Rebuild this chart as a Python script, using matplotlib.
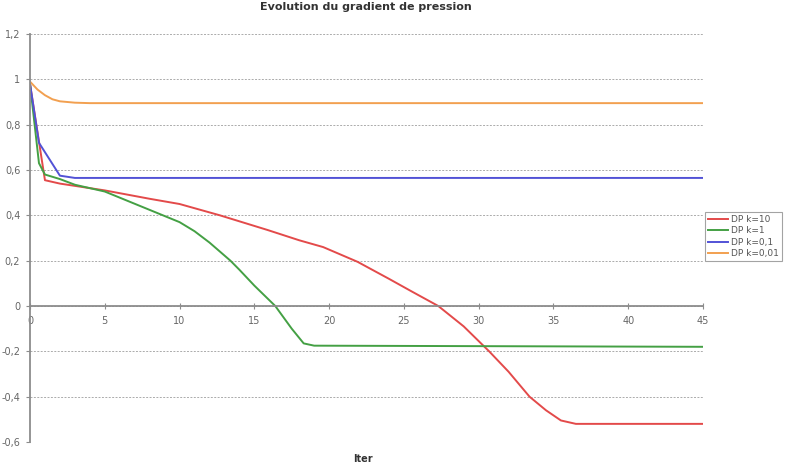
import matplotlib
matplotlib.use('Agg')
import matplotlib.pyplot as plt
from matplotlib.ticker import FuncFormatter

# --- data ---
labels = ["DP k=10", "DP k=1", "DP k=0,1", "DP k=0,01"]
colors = ["#e34a4a", "#44a044", "#5252d6", "#f2a050"]

x_k10 = [0, 1, 2, 5, 8, 10, 12.7, 15.9, 18, 19.6, 21.9, 24, 25.5, 27.3, 29, 30.7, 32, 33.4, 34.5, 35.5, 36.5, 45]
y_k10 = [0.98, 0.555, 0.54, 0.51, 0.473, 0.45, 0.40, 0.335, 0.29, 0.26, 0.195, 0.12, 0.065, 0.0,
         -0.09, -0.2, -0.29, -0.4, -0.46, -0.505, -0.52, -0.52]

x_k1 = [0, 0.6, 1, 2, 3, 5, 8, 10, 11, 12, 13.4, 14, 15, 15.7, 16.4, 17.5, 18.3, 19, 45]
y_k1 = [0.98, 0.63, 0.58, 0.56, 0.535, 0.505, 0.424, 0.37, 0.33, 0.28, 0.20, 0.16, 0.09, 0.045,
        0.0, -0.1, -0.165, -0.175, -0.18]

x_k01 = [0, 0.6, 2, 3, 45]
y_k01 = [0.98, 0.72, 0.575, 0.565, 0.565]

x_k001 = [0, 0.5, 1, 1.5, 2, 3, 4, 45]
y_k001 = [0.99, 0.955, 0.93, 0.912, 0.903, 0.897, 0.895, 0.895]

series = [(x_k10, y_k10), (x_k1, y_k1), (x_k01, y_k01), (x_k001, y_k001)]

fig = plt.figure(figsize=(7.94, 4.65), dpi=100)
ax = fig.add_axes([30 / 794, 23 / 465, 673 / 794, 408 / 465])

for (xs, ys), c, lab in zip(series, colors, labels):
    ax.plot(xs, ys, color=c, lw=1.4, label=lab, solid_joinstyle='round')

ax.set_xlim(0, 45)
ax.set_ylim(-0.6, 1.2)
ax.set_xticks(range(0, 46, 5))
ax.set_yticks([-0.6, -0.4, -0.2, 0, 0.2, 0.4, 0.6, 0.8, 1.0, 1.2])
ax.yaxis.set_major_formatter(FuncFormatter(lambda v, p: f"{v:g}".replace(".", ",")))

# gridlines
ax.grid(axis='y', ls=(0, (2, 1.5)), color='#ababab', lw=0.7)
ax.set_axisbelow(True)

for s in ['top', 'right']:
    ax.spines[s].set_visible(False)
ax.spines['bottom'].set_position(('data', 0))
ax.spines['bottom'].set_color('#8c8c8c')
ax.spines['bottom'].set_linewidth(1.3)
ax.spines['left'].set_color('#8c8c8c')
ax.spines['left'].set_linewidth(1.3)

ax.tick_params(axis='x', direction='inout', length=5, color='#8c8c8c', labelsize=7,
               labelcolor='#666666', pad=5)
ax.tick_params(axis='y', direction='out', length=3, color='#8c8c8c', labelsize=7,
               labelcolor='#666666', pad=4)

fig.text(366 / 794, 1 - 7 / 465, "Evolution du gradient de pression", ha='center', va='center',
         fontsize=8, fontweight='bold', color='#333333')
fig.text(363 / 794, 1 - 459 / 465, "Iter", ha='center', va='center', fontsize=7,
         fontweight='bold', color='#333333')

leg = fig.legend(loc='upper left', bbox_to_anchor=(705 / 794, 1 - 212 / 465), fontsize=6.5,
                 frameon=True, fancybox=False, edgecolor='#8c8c8c', handlelength=2.2,
                 handletextpad=0.3, borderpad=0.35, labelspacing=0.25, borderaxespad=0)
leg.get_frame().set_linewidth(0.8)
for t in leg.get_texts():
    t.set_color('#555555')

fig.savefig("out.png", dpi=100)
